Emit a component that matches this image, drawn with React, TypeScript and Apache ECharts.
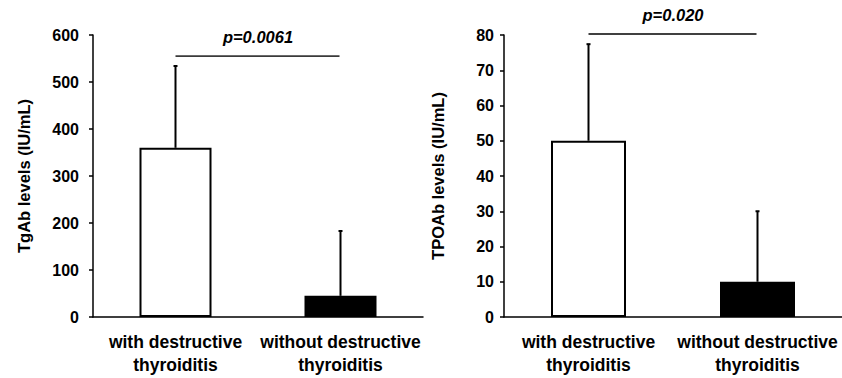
import React, { useEffect, useRef } from "react";
import * as echarts from "echarts";

const categories = ["with destructive\nthyroiditis", "without destructive\nthyroiditis"];

const tgabMean = [360, 45];
const tgabSD = [174, 138];
const tgabAxis = { min: 0, max: 600, interval: 100 };
const tgabName = "TgAb levels (IU/mL)";

const tpoabMean = [50, 10];
const tpoabSD = [27.4, 20];
const tpoabAxis = { min: 0, max: 80, interval: 10 };
const tpoabName = "TPOAb levels (IU/mL)";

const pLabels = ["p=0.0061", "p=0.020"];
const bracketValues = [555, 80.3];
const pLabelValues = [596, 85.7];
const bracketColors = ["#3a3a3a", "#000000"];

const barFills = ["#ffffff", "#000000"];

const FONT = "'Liberation Sans', Arial, sans-serif";

export default function App() {
  const ref = useRef<HTMLDivElement>(null);

  useEffect(() => {
    if (!ref.current) return;
    const chart = echarts.init(ref.current, null, { renderer: "svg" });

    const axisLabel = (margin: number) => ({
      color: "#000",
      fontSize: 16,
      fontWeight: "bold",
      fontFamily: FONT,
      margin,
    });

    const xAxisCommon = {
      type: "category",
      data: categories,
      axisLine: { lineStyle: { color: "#000", width: 1.5 } },
      axisTick: { show: false },
      axisLabel: {
        color: "#000",
        fontSize: 17.5,
        fontWeight: "bold",
        fontFamily: FONT,
        lineHeight: 23,
        margin: 13,
        interval: 0,
      },
    };

    const yAxisCommon = (cfg: any, name: string, nameGap: number, labelMargin: number) => ({
      type: "value",
      min: cfg.min,
      max: cfg.max,
      interval: cfg.interval,
      name,
      nameLocation: "middle",
      nameGap,
      nameTextStyle: { color: "#000", fontSize: 16.5, fontWeight: "bold", fontFamily: FONT },
      axisLine: { show: true, lineStyle: { color: "#000", width: 1.5 } },
      axisTick: { show: true, length: 4, lineStyle: { color: "#000", width: 1.5 } },
      splitLine: { show: false },
      axisLabel: axisLabel(labelMargin),
    });

    const barSeries = (idx: number, means: number[], width: number) => ({
      type: "bar",
      xAxisIndex: idx,
      yAxisIndex: idx,
      barWidth: width,
      z: 3,
      data: means.map((v, i) => ({
        value: v,
        itemStyle: { color: barFills[i], borderColor: "#000", borderWidth: 2 },
      })),
    });

    const errSeries = (idx: number, means: number[], sds: number[]) => ({
      type: "custom",
      xAxisIndex: idx,
      yAxisIndex: idx,
      z: 2,
      data: means.map((m, i) => [i, m, sds[i]]),
      encode: { x: 0, y: 1 },
      renderItem: (params: any, api: any) => {
        const x = api.value(0);
        const m = api.value(1);
        const sd = api.value(2);
        const p0 = api.coord([x, m]);
        const p1 = api.coord([x, m + sd]);
        return {
          type: "group",
          children: [
            {
              type: "line",
              shape: { x1: p0[0], y1: p0[1], x2: p1[0], y2: p1[1] },
              style: { stroke: "#000", lineWidth: 2 },
            },
            {
              type: "line",
              shape: { x1: p1[0] - 2, y1: p1[1], x2: p1[0] + 2, y2: p1[1] },
              style: { stroke: "#000", lineWidth: 2 },
            },
          ],
        };
      },
    });

    const bracketSeries = (idx: number) => ({
      type: "custom",
      xAxisIndex: idx,
      yAxisIndex: idx,
      clip: false,
      z: 4,
      data: [[0, bracketValues[idx], pLabelValues[idx]]],
      encode: { x: 0, y: 1 },
      renderItem: (params: any, api: any) => {
        const yv = api.value(1);
        const pv = api.value(2);
        const a = api.coord([0, yv]);
        const b = api.coord([1, yv]);
        const t = api.coord([0, pv]);
        return {
          type: "group",
          children: [
            {
              type: "line",
              shape: { x1: a[0], y1: a[1], x2: b[0] - 1, y2: b[1] },
              style: { stroke: bracketColors[idx], lineWidth: 1.6 },
            },
            {
              type: "text",
              x: (a[0] + b[0]) / 2,
              y: t[1],
              style: {
                text: pLabels[idx],
                fill: "#000",
                fontSize: 16.5,
                fontWeight: "bold",
                fontStyle: "italic",
                fontFamily: FONT,
                align: "center",
                verticalAlign: "middle",
              },
            },
          ],
        };
      },
    });

    chart.setOption({
      animation: false,
      backgroundColor: "#ffffff",
      grid: [
        { left: 93, top: 35, width: 330, height: 282 },
        { left: 504, top: 35, width: 338, height: 282 },
      ],
      xAxis: [
        { ...xAxisCommon, gridIndex: 0 },
        { ...xAxisCommon, gridIndex: 1 },
      ],
      yAxis: [
        { ...yAxisCommon(tgabAxis, tgabName, 61, 14), gridIndex: 0 },
        { ...yAxisCommon(tpoabAxis, tpoabName, 58, 10), gridIndex: 1 },
      ],
      series: [
        barSeries(0, tgabMean, 72),
        errSeries(0, tgabMean, tgabSD),
        bracketSeries(0),
        barSeries(1, tpoabMean, 75),
        errSeries(1, tpoabMean, tpoabSD),
        bracketSeries(1),
      ],
    });

    return () => chart.dispose();
  }, []);

  return (
    <div
      ref={ref}
      style={{ position: "fixed", left: 0, top: 0, width: 842, height: 378, background: "#fff" }}
    />
  );
}
